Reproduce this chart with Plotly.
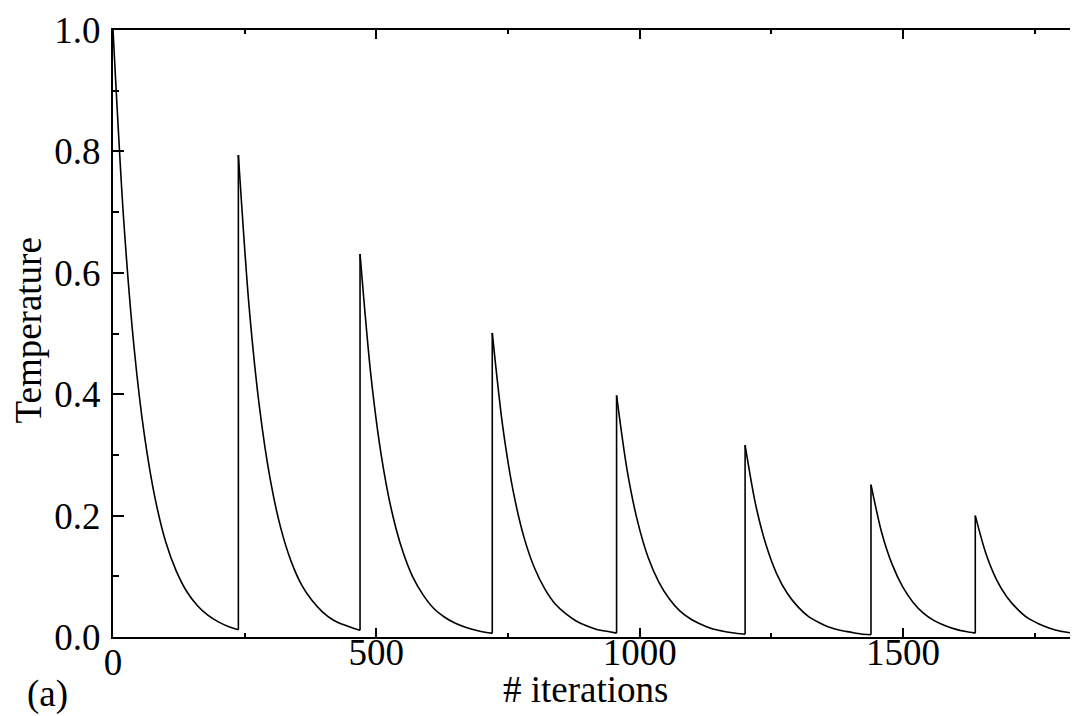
import plotly.graph_objects as go

seg1_x = [0, 20, 40, 60, 80, 100, 120, 140, 160, 180, 200, 220, 238]
seg1_y = [1.0, 0.691, 0.477, 0.330, 0.228, 0.157, 0.109, 0.075, 0.052, 0.036, 0.025, 0.017, 0.012]

seg2_x = [238, 258, 278, 298, 318, 338, 358, 378, 398, 418, 438, 458, 469]
seg2_y = [0.794, 0.548, 0.379, 0.262, 0.181, 0.125, 0.086, 0.060, 0.041, 0.028, 0.020, 0.014, 0.011]

seg3_x = [469, 489, 509, 529, 549, 569, 589, 609, 629, 649, 669, 689, 709, 720]
seg3_y = [0.631, 0.436, 0.301, 0.208, 0.144, 0.099, 0.069, 0.047, 0.033, 0.023, 0.016, 0.011, 0.0074, 0.006]

seg4_x = [720, 740, 760, 780, 800, 820, 840, 860, 880, 900, 920, 940, 956]
seg4_y = [0.501, 0.346, 0.239, 0.165, 0.114, 0.079, 0.054, 0.038, 0.026, 0.018, 0.012, 0.009, 0.0064]

seg5_x = [956, 976, 996, 1016, 1036, 1056, 1076, 1096, 1116, 1136, 1156, 1176, 1200]
seg5_y = [0.398, 0.275, 0.190, 0.131, 0.091, 0.063, 0.043, 0.030, 0.021, 0.014, 0.010, 0.007, 0.0044]

seg6_x = [1200, 1220, 1240, 1260, 1280, 1300, 1320, 1340, 1360, 1380, 1400, 1420, 1439]
seg6_y = [0.316, 0.218, 0.151, 0.104, 0.072, 0.050, 0.034, 0.024, 0.016, 0.011, 0.008, 0.005, 0.0038]

seg7_x = [1439, 1459, 1479, 1499, 1519, 1539, 1559, 1579, 1599, 1619, 1637]
seg7_y = [0.251, 0.173, 0.120, 0.083, 0.057, 0.039, 0.027, 0.019, 0.013, 0.009, 0.0064]

seg8_x = [1637, 1657, 1677, 1697, 1717, 1737, 1757, 1777, 1797, 1817, 1837]
seg8_y = [0.200, 0.138, 0.095, 0.066, 0.046, 0.031, 0.022, 0.015, 0.010, 0.007, 0.005]

x_ticks = [0, 500, 1000, 1500]
y_ticks = [0.0, 0.2, 0.4, 0.6, 0.8, 1.0]
x_title = "# iterations"
y_title = "Temperature"
panel_label = "(a)"

segments = [(seg1_x, seg1_y), (seg2_x, seg2_y), (seg3_x, seg3_y), (seg4_x, seg4_y),
            (seg5_x, seg5_y), (seg6_x, seg6_y), (seg7_x, seg7_y), (seg8_x, seg8_y)]

FONT = "Liberation Serif"
FS = 37
LINE = dict(color="black", width=1.6)
XR = [0, 1832]

fig = go.Figure()
prev_end = None
for sx, sy in segments:
    if prev_end is not None:
        # vertical restart jump
        fig.add_trace(go.Scatter(x=[sx[0], sx[0]], y=[prev_end, sy[0]], mode="lines",
                                 line=LINE, hoverinfo="skip", showlegend=False))
    fig.add_trace(go.Scatter(x=sx, y=sy, mode="lines",
                             line=dict(color="black", width=1.6, shape="spline", smoothing=0.8),
                             hoverinfo="skip", showlegend=False))
    prev_end = sy[-1]

# invisible traces to activate the helper axes
fig.add_trace(go.Scatter(x=[None], y=[None], yaxis="y2", mode="lines",
                         showlegend=False, hoverinfo="skip"))
fig.add_trace(go.Scatter(x=[None], y=[None], xaxis="x2", mode="lines",
                         showlegend=False, hoverinfo="skip"))
fig.add_trace(go.Scatter(x=[None], y=[None], xaxis="x3", mode="lines",
                         showlegend=False, hoverinfo="skip"))

label_axis = dict(range=XR, overlaying="x", anchor="free", side="bottom",
                  ticks="", showline=False, showgrid=False, zeroline=False,
                  tickfont=dict(family=FONT, size=FS, color="black"))

# page body has an 8px margin, so the figure is 8px smaller and offset accordingly
fig.update_layout(
    width=1070, height=708,
    margin=dict(l=105, r=0, t=22, b=79),
    paper_bgcolor="white", plot_bgcolor="white",
    font=dict(family=FONT, size=FS, color="black"),
    xaxis=dict(range=XR, tickvals=x_ticks, ticks="inside", ticklen=9,
               tickwidth=1.5, tickcolor="black", showline=True, linecolor="black",
               linewidth=2, mirror="ticks", showgrid=False, zeroline=False,
               showticklabels=False,
               minor=dict(dtick=250, tick0=0, ticks="inside", ticklen=4,
                          tickwidth=1.5, tickcolor="black", showgrid=False)),
    xaxis2=dict(label_axis, tickvals=x_ticks[1:], position=0.016),
    xaxis3=dict(label_axis, tickvals=x_ticks[:1], position=0.0),
    yaxis=dict(range=[0, 1.0], tickvals=y_ticks, tickformat=".1f", ticks="inside",
               ticklen=11, tickwidth=1.5, tickcolor="black", showline=True,
               linecolor="black", linewidth=2, mirror=False, showgrid=False,
               zeroline=False, tickfont=dict(family=FONT, size=FS, color="black"),
               ticklabelstandoff=3,
               minor=dict(dtick=0.1, tick0=0, ticks="inside", ticklen=6,
                          tickwidth=1.5, tickcolor="black", showgrid=False)),
    yaxis2=dict(range=[0, 1.0], overlaying="y", side="right", anchor="x",
                tickvals=[0.2, 0.4, 0.6, 0.8], ticks="inside", ticklen=2,
                tickwidth=1.5, tickcolor="black", showticklabels=False,
                showline=False, showgrid=False, zeroline=False),
    annotations=[
        dict(text=x_title, xref="paper", yref="paper", x=0.49, y=-0.086,
             xanchor="center", yanchor="middle", showarrow=False,
             font=dict(family=FONT, size=FS, color="black")),
        dict(text=y_title, xref="paper", yref="paper", x=-0.088, y=0.505,
             xanchor="center", yanchor="middle", textangle=-90, showarrow=False,
             font=dict(family=FONT, size=FS, color="black")),
        dict(text=panel_label, xref="paper", yref="paper", x=-0.068, y=-0.094,
             xanchor="center", yanchor="middle", showarrow=False,
             font=dict(family=FONT, size=FS, color="black")),
    ],
)

fig.write_html("out.html")
